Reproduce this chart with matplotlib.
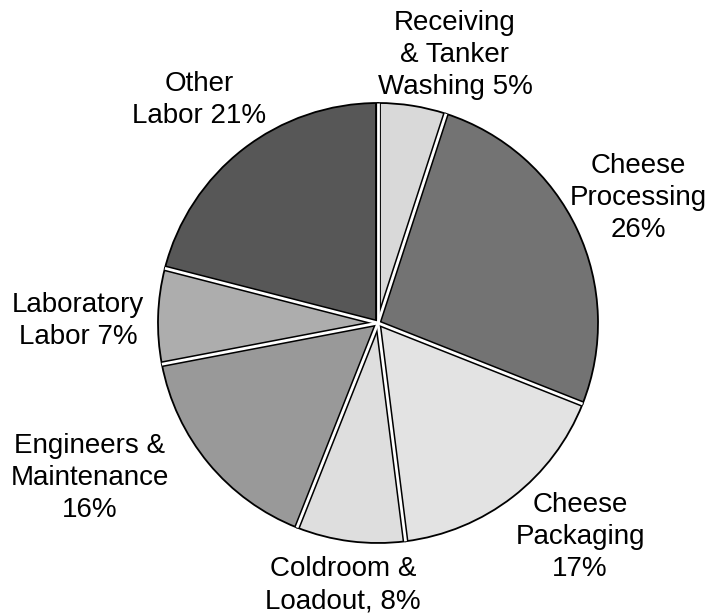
import matplotlib
matplotlib.use('Agg')
import matplotlib.pyplot as plt
import numpy as np

# slices clockwise from 12 o'clock
labels = ['Receiving\n& Tanker\nWashing 5%', 'Cheese\nProcessing\n26%',
          'Cheese\nPackaging\n17%', 'Coldroom &\nLoadout, 8%',
          'Engineers &\nMaintenance\n16%', 'Laboratory\nLabor 7%',
          'Other\nLabor 21%']
shares = [5, 26, 17, 8, 16, 7, 21]
greys = ['0.85', '0.45', '0.89', '0.87', '0.60', '0.68', '0.34']

# label centres in image pixels (x, y from top)
label_xy = [(455, 55), (638, 198), (580, 537), (343, 585),
            (90, 478), (78, 321), (199, 100)]

W, H = 712, 615
cx, cy, r = 378, H - 323, 220

plt.rcParams['font.family'] = ['Liberation Sans', 'DejaVu Sans']

fig = plt.figure(figsize=(W / 100, H / 100), dpi=100)
ax = fig.add_axes([0, 0, 1, 1])

wedges, _ = ax.pie(shares, colors=greys, startangle=90, counterclock=False,
                   center=(cx, cy), radius=r, frame=True,
                   wedgeprops=dict(edgecolor='black', linewidth=1.3))
ax.set_xlim(0, W)
ax.set_ylim(0, H)
ax.set_aspect('equal')
ax.axis('off')

# double-line separators between slices
for w in wedges:
    a = np.deg2rad(w.theta1)
    xs = [cx, cx + r * np.cos(a)]
    ys = [cy, cy + r * np.sin(a)]
    ax.plot(xs, ys, color='black', lw=4.2, solid_capstyle='butt', zorder=3)
    ax.plot(xs, ys, color='white', lw=2.0, solid_capstyle='butt', zorder=4)

for txt, (x, y) in zip(labels, label_xy):
    ax.text(x, H - y, txt, ha='center', va='center', fontsize=20,
            linespacing=1.3, color='black')

fig.savefig('out.png', dpi=100)
